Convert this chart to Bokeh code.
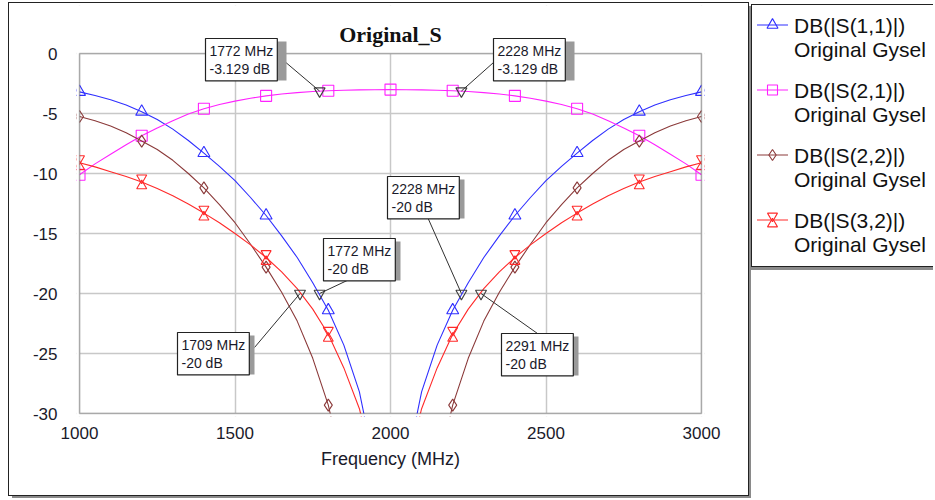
from bokeh.plotting import figure
from bokeh.layouts import row
from bokeh.models import Range1d, FixedTicker, Label, BoxAnnotation, ColumnDataSource
from bokeh.transform import dodge
from bokeh.embed import file_html
from bokeh.resources import INLINE

# ---------------- data ----------------
freq = [1000, 1050, 1100, 1150, 1200, 1250, 1300, 1350, 1400, 1450, 1500,
        1550, 1600, 1650, 1700, 1750, 1800, 1850, 1900, 1950, 2000,
        2050, 2100, 2150, 2200, 2250, 2300, 2350, 2400, 2450, 2500,
        2550, 2600, 2650, 2700, 2750, 2800, 2850, 2900, 2950, 3000]

s11 = [-3.2, -3.5, -3.85, -4.3, -4.85, -5.5, -6.3, -7.25, -8.3, -9.4, -10.6,
       -12.0, -13.5, -15.2, -17.0, -19.1, -21.4, -24.3, -28.2, -34.5, -60.0,
       -34.5, -28.2, -24.3, -21.4, -19.1, -17.0, -15.2, -13.5, -12.0, -10.6,
       -9.4, -8.3, -7.25, -6.3, -5.5, -4.85, -4.3, -3.85, -3.5, -3.2]

s21 = [-10.1, -9.2, -8.4, -7.6, -6.85, -6.2, -5.6, -5.05, -4.6, -4.25, -3.97,
       -3.73, -3.53, -3.38, -3.26, -3.17, -3.11, -3.06, -3.03, -3.015, -3.01,
       -3.015, -3.03, -3.06, -3.11, -3.17, -3.26, -3.38, -3.53, -3.73, -3.97,
       -4.25, -4.6, -5.05, -5.6, -6.2, -6.85, -7.6, -8.4, -9.2, -10.1]

s22 = [-5.25, -5.6, -6.05, -6.6, -7.3, -8.0, -8.9, -10.0, -11.2, -12.6, -14.1,
       -15.9, -17.8, -19.9, -22.3, -25.4, -29.3, -35.0, -43.0, -55.0, -70.0,
       -55.0, -43.0, -35.0, -29.3, -25.4, -22.3, -19.9, -17.8, -15.9, -14.1,
       -12.6, -11.2, -10.0, -8.9, -8.0, -7.3, -6.6, -6.05, -5.6, -5.25]

s32 = [-9.1, -9.45, -9.85, -10.25, -10.7, -11.25, -11.85, -12.55, -13.3, -14.1, -15.0,
       -15.95, -17.0, -18.2, -19.6, -21.3, -23.4, -26.2, -29.6, -35.0, -50.0,
       -35.0, -29.6, -26.2, -23.4, -21.3, -19.6, -18.2, -17.0, -15.95, -15.0,
       -14.1, -13.3, -12.55, -11.85, -11.25, -10.7, -10.25, -9.85, -9.45, -9.1]

# symbol markers are drawn every 200 MHz
mark_step = 4

# data markers (readouts)
mk_freq = [1772, 2228, 2228, 1772, 1709, 2291]
mk_db = [-3.129, -3.129, -20, -20, -20, -20]
mk_text = ["1772 MHz\n-3.129 dB", "2228 MHz\n-3.129 dB", "2228 MHz\n-20 dB",
           "1772 MHz\n-20 dB", "1709 MHz\n-20 dB", "2291 MHz\n-20 dB"]
# box top-left corners and leader start points (page pixels)
box_px = [(205, 38), (493, 38), (387, 176), (323, 238), (177, 332), (501, 333)]
lead_px = [(283, 60), (493, 62), (425, 212), (353, 277), (254, 347), (537, 333)]

title = "Original_S"
x_label = "Frequency (MHz)"
x_ticks = [1000, 1500, 2000, 2500, 3000]
y_ticks = [-30, -25, -20, -15, -10, -5, 0]
names = ["DB(|S(1,1)|)", "DB(|S(2,1)|)", "DB(|S(2,2)|)", "DB(|S(3,2)|)"]
sub = "Original Gysel"

# ---------------- layout (page pixels) ----------------
OX, OY, OR, OB = 9, 3, 748, 495          # outer chart box
FL, FT, FR, FB = 79, 53, 701, 413        # plot box (1000..3000, 0..-30)
X0, X1, Y0, Y1 = 1000, 3000, -30, 0


def px_x(px):
    return X0 + (px - FL) * (X1 - X0) / (FR - FL)


def px_y(py):
    return Y1 - (py - FT) * (Y1 - Y0) / (FB - FT)


# the frame is a little larger than the plot box so that boxes above it are not clipped
GL, GT, GR, GB = 76, 5, 704, 416

FONT = "Liberation Sans"
INK = "#1a1a2a"

p = figure(width=OR - OX, height=OB - OY, output_backend="svg", toolbar_location=None,
           x_range=Range1d(px_x(GL), px_x(GR)), y_range=Range1d(px_y(GB), px_y(GT)),
           min_border_left=GL - OX, min_border_top=GT - OY,
           min_border_right=OR - GR, min_border_bottom=OB - GB)
p.frame_align = False
p.background_fill_color = "white"
p.border_fill_color = "white"
p.outline_line_color = None
p.margin = (OY, 0, 0, OX)
p.styles = {"outline": "1.5px solid #222222", "box-shadow": "3px 3px 0 0 #8a8a8a"}

for ax in (p.xaxis[0], p.yaxis[0]):
    ax.axis_line_color = None
    ax.major_tick_line_color = None
    ax.minor_tick_line_color = None
    ax.major_tick_in = 0
    ax.major_tick_out = 0
    ax.minor_tick_in = 0
    ax.minor_tick_out = 0
    ax.major_label_text_font = FONT
    ax.major_label_text_font_size = "17px"
    ax.major_label_text_color = INK

p.xaxis.major_label_standoff = 435 - GB - 9
p.yaxis.major_label_standoff = GL - 57
p.xaxis.ticker = FixedTicker(ticks=x_ticks)
p.yaxis.ticker = FixedTicker(ticks=y_ticks)
p.xaxis.major_label_overrides = {t: str(t) for t in x_ticks}
p.yaxis.major_label_overrides = {t: str(t) for t in y_ticks}
p.xaxis.axis_label = x_label
p.xaxis.axis_label_text_font = FONT
p.xaxis.axis_label_text_font_size = "18px"
p.xaxis.axis_label_text_font_style = "normal"
p.xaxis.axis_label_text_color = INK
p.xaxis.axis_label_standoff = 7

p.xgrid.ticker = FixedTicker(ticks=x_ticks)
p.ygrid.ticker = FixedTicker(ticks=y_ticks)
p.grid.grid_line_color = "#c8c8c8"
p.grid.grid_line_width = 1.5

src = ColumnDataSource(dict(f=freq[::mark_step], s11=s11[::mark_step], s21=s21[::mark_step],
                            s22=s22[::mark_step], s32=s32[::mark_step]))

c11, c21, c22, c32 = "#2f2fff", "#ff22ff", "#8b3a3a", "#ff2a2a"
LW = 1.1
HG = 4  # half gap (px) of the hourglass marker

p.line(freq, s11, line_color=c11, line_width=LW)
p.scatter("f", "s11", source=src, marker="triangle", size=12, fill_color=None,
          line_color=c11, line_width=LW)
p.line(freq, s21, line_color=c21, line_width=LW)
p.scatter("f", "s21", source=src, marker="square", size=11, fill_color=None,
          line_color=c21, line_width=LW)
p.line(freq, s22, line_color=c22, line_width=LW)
p.scatter("f", "s22", source=src, marker="diamond", size=12, fill_color=None,
          line_color=c22, line_width=LW)
p.line(freq, s32, line_color=c32, line_width=LW)
d = HG * (Y1 - Y0) / (FB - FT)
p.scatter("f", dodge("s32", d, range=p.y_range), source=src, marker="inverted_triangle",
          size=10, fill_color=None, line_color=c32, line_width=LW)
p.scatter("f", dodge("s32", -d, range=p.y_range), source=src, marker="triangle",
          size=10, fill_color=None, line_color=c32, line_width=LW)

# white covers outside the plot box (hide grid stubs / lines below -30)
WHITE = dict(fill_color="white", fill_alpha=1, line_color=None)
p.add_layout(BoxAnnotation(bottom=Y1, **WHITE))
p.add_layout(BoxAnnotation(top=Y0, **WHITE))
p.add_layout(BoxAnnotation(right=X0, **WHITE))
p.add_layout(BoxAnnotation(left=X1, **WHITE))
# plot box outline
p.add_layout(BoxAnnotation(left=X0, right=X1, bottom=Y0, top=Y1, fill_color=None,
                           line_color="#222222", line_width=1.5))

# readout markers and leaders
p.scatter(mk_freq, mk_db, marker="inverted_triangle", size=11, fill_color=None,
          line_color="#404040", line_width=LW)
p.segment(x0=[px_x(a) for a, b in lead_px], y0=[px_y(b) for a, b in lead_px],
          x1=mk_freq, y1=mk_db, line_color="#303030", line_width=1)

for (bx, by), txt in zip(box_px, mk_text):
    wbox = 78 if "3.129" in txt else 74
    p.add_layout(BoxAnnotation(left=px_x(bx + 3), right=px_x(bx + 3 + wbox),
                               top=px_y(by + 3), bottom=px_y(by + 42),
                               fill_color="#9a9a9a", fill_alpha=1, line_color=None))
    p.add_layout(Label(x=px_x(bx), y=px_y(by), text=txt, text_font=FONT, text_font_size="14px",
                       text_color=INK, text_align="left", text_baseline="top",
                       text_line_height=1.15, padding=4,
                       border_line_color="#222222", border_line_width=1.2,
                       background_fill_color="white", background_fill_alpha=1))

# title
p.add_layout(Label(x=(X0 + X1) / 2, y=px_y(34), text=title, text_font="Liberation Serif",
                   text_font_style="bold", text_font_size="22px", text_color="#111111",
                   text_align="center", text_baseline="middle"))

# ---------------- legend panel (its frame is the whole panel, 1 unit = 1 px) ----------------
LX, LY, LB = 752, 4, 267
BW = 1.5
QW, QH = 935 - LX - 1, LB - LY
q = figure(width=QW, height=QH, output_backend="svg", toolbar_location=None,
           x_axis_location=None, y_axis_location=None,
           x_range=Range1d(0, QW), y_range=Range1d(QH, 0),
           min_border=0, min_border_left=0, min_border_right=0, min_border_top=0, min_border_bottom=0)
q.frame_align = False
q.outline_line_color = None
q.grid.visible = False
q.background_fill_color = "white"
q.border_fill_color = "white"
q.margin = (LY, 0, 0, LX - OR - 1)
q.styles = {"border-left": "1.5px solid #222222", "border-top": "1.5px solid #222222",
            "border-bottom": "1.5px solid #222222", "box-shadow": "0 3px 0 0 #8a8a8a"}

ROW0, PITCH, SUBGAP = 25 - LY - BW, 65, 24.5     # first line centre, item pitch, line gap
SW0, SW1, TX = 758 - LX - BW, 789 - LX - BW, 795 - LX - BW
SM = (SW0 + SW1) / 2
swatch = [("triangle", 11, c11), ("square", 10, c21), ("diamond", 11, c22), (None, 10, c32)]

for i, (name, (mk, sz, col)) in enumerate(zip(names, swatch)):
    yy = ROW0 + i * PITCH
    q.line([SW0, SW1], [yy, yy], line_color=col, line_width=LW)
    if mk is None:
        q.scatter([SM], [yy - HG], marker="inverted_triangle", size=sz, fill_color=None,
                  line_color=col, line_width=LW)
        q.scatter([SM], [yy + HG], marker="triangle", size=sz, fill_color=None,
                  line_color=col, line_width=LW)
    else:
        q.scatter([SM], [yy], marker=mk, size=sz, fill_color=None, line_color=col, line_width=LW)
    for j, t in enumerate([name, sub]):
        q.add_layout(Label(x=TX, y=yy + j * SUBGAP, text=t, text_font=FONT, text_font_size="21px",
                           text_color="#111111", text_align="left", text_baseline="middle"))

layout = row(p, q)
open("out.html", "w").write(file_html(layout, INLINE))
